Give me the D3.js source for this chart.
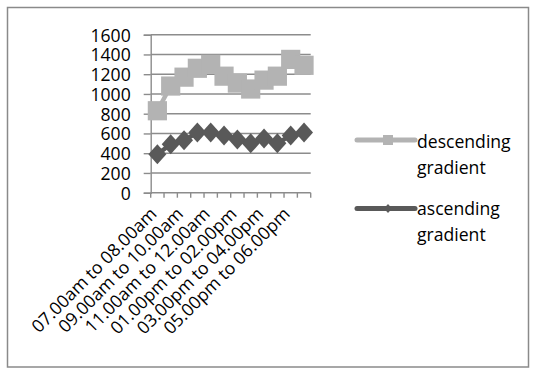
<!DOCTYPE html>
<html>
<head>
<meta charset="utf-8">
<script src="https://cdn.jsdelivr.net/npm/d3@7"></script>
<style>
  html, body { margin: 0; padding: 0; background: #fff; }
  svg { display: block; }
  text { font-family: "Open Sans", sans-serif; fill: #000; }
</style>
</head>
<body>
<svg id="chart" width="536" height="371"></svg>
<script>
// Hourly time slots along the x axis
const categories = [
  "07.00am to 08.00am", "08.00am to 09.00am", "09.00am to 10.00am",
  "10.00am to 11.00am", "11.00am to 12.00am", "12.00pm to 01.00pm",
  "01.00pm to 02.00pm", "02.00pm to 03.00pm", "03.00pm to 04.00pm",
  "04.00pm to 05.00pm", "05.00pm to 06.00pm", "06.00pm to 07.00pm"
];
// Counts per slot for each gradient direction
const descendingValues = [830, 1080, 1170, 1260, 1300, 1180, 1110, 1050, 1140, 1180, 1350, 1290];
const ascendingValues  = [390, 490, 530, 610, 610, 580, 540, 500, 550, 500, 580, 610];
const yTickValues = [0, 200, 400, 600, 800, 1000, 1200, 1400, 1600];
const seriesNames = ["descending gradient", "ascending gradient"];

const svg = d3.select("#chart");
const FONT = 17.6;
const gridColor = "#8c8c8c";
const colors = { descending: "#b3b3b3", ascending: "#595959" };

// Chart frame
svg.append("rect")
  .attr("x", 7.5).attr("y", 7.5)
  .attr("width", 521).attr("height", 359.5)
  .attr("fill", "#fff")
  .attr("stroke", "#8a8a8a").attr("stroke-width", 1.5);

const plot = { left: 150.7, right: 310.7, top: 34.7, bottom: 192.7 };

const x = d3.scaleBand().domain(categories).range([plot.left, plot.right]).paddingInner(0).paddingOuter(0);
const y = d3.scaleLinear().domain([0, 1600]).range([plot.bottom, plot.top]);
const cx = d => x(d) + x.bandwidth() / 2;

// Horizontal gridlines
svg.append("g")
  .selectAll("line")
  .data(yTickValues.filter(v => v > 0))
  .join("line")
  .attr("x1", plot.left).attr("x2", plot.right)
  .attr("y1", d => y(d)).attr("y2", d => y(d))
  .attr("stroke", gridColor).attr("stroke-width", 1.4);

// Y axis with outside ticks
const yAxis = svg.append("g")
  .attr("transform", `translate(${plot.left},0)`)
  .call(d3.axisLeft(y).tickValues(yTickValues).tickSize(7).tickPadding(13).tickFormat(d3.format("d")));
yAxis.select(".domain").attr("stroke", gridColor).attr("stroke-width", 1.4);
yAxis.selectAll(".tick line").attr("stroke", gridColor).attr("stroke-width", 1.4);
yAxis.selectAll(".tick text")
  .attr("font-size", FONT).attr("font-family", null).attr("fill", "#000").attr("dy", "0.36em");

// X axis: tick marks on category boundaries
const xAxisG = svg.append("g").attr("transform", `translate(0,${plot.bottom})`);
xAxisG.append("line")
  .attr("x1", plot.left).attr("x2", plot.right)
  .attr("stroke", gridColor).attr("stroke-width", 1.4);
xAxisG.selectAll("line.tk")
  .data(d3.range(categories.length + 1))
  .join("line")
  .attr("class", "tk")
  .attr("x1", i => plot.left + i * x.bandwidth())
  .attr("x2", i => plot.left + i * x.bandwidth())
  .attr("y1", 0).attr("y2", 5)
  .attr("stroke", gridColor).attr("stroke-width", 1.4);

// Rotated category labels (every other slot)
xAxisG.selectAll("text")
  .data(categories.filter((d, i) => i % 2 === 0))
  .join("text")
  .attr("transform", d => `translate(${cx(d) - 4},${18}) rotate(-45)`)
  .attr("text-anchor", "end")
  .attr("dy", "0.35em")
  .attr("font-size", FONT)
  .text(d => d);

// Series
const series = [
  { name: seriesNames[0], values: descendingValues, color: colors.descending, shape: "square" },
  { name: seriesNames[1], values: ascendingValues, color: colors.ascending, shape: "diamond" }
];

const line = d3.line().x((d, i) => cx(categories[i])).y(d => y(d));

const markerPath = (shape, r) => shape === "square"
  ? `M${-r},${-r}H${r}V${r}H${-r}Z`
  : `M0,${-r}L${r * 0.9},0L0,${r}L${-r * 0.9},0Z`;

series.forEach(s => {
  svg.append("path")
    .datum(s.values)
    .attr("d", line)
    .attr("fill", "none")
    .attr("stroke", s.color)
    .attr("stroke-width", 4.5)
    .attr("stroke-linejoin", "round");
  svg.append("g")
    .selectAll("path")
    .data(s.values)
    .join("path")
    .attr("transform", (d, i) => `translate(${cx(categories[i])},${y(d)})`)
    .attr("d", markerPath(s.shape, s.shape === "square" ? 9.6 : 10))
    .attr("fill", s.color);
});

// Legend
const legendRows = [
  { s: series[0], lineY: 140, baseY: 148.3 },
  { s: series[1], lineY: 208.5, baseY: 215 }
];
legendRows.forEach(r => {
  const g = svg.append("g");
  g.append("line")
    .attr("x1", 357).attr("x2", 415)
    .attr("y1", r.lineY).attr("y2", r.lineY)
    .attr("stroke", r.s.color).attr("stroke-width", 5).attr("stroke-linecap", "round");
  g.append("path")
    .attr("transform", `translate(388,${r.lineY})`)
    .attr("d", markerPath(r.s.shape, r.s.shape === "square" ? 5 : 4.5))
    .attr("fill", r.s.color);
  const words = r.s.name.split(" ");
  const t = g.append("text").attr("x", 417).attr("y", r.baseY).attr("font-size", FONT);
  words.forEach((w, i) => {
    t.append("tspan").attr("x", 417).attr("dy", i === 0 ? 0 : 25.5).text(w);
  });
});
</script>
</body>
</html>
